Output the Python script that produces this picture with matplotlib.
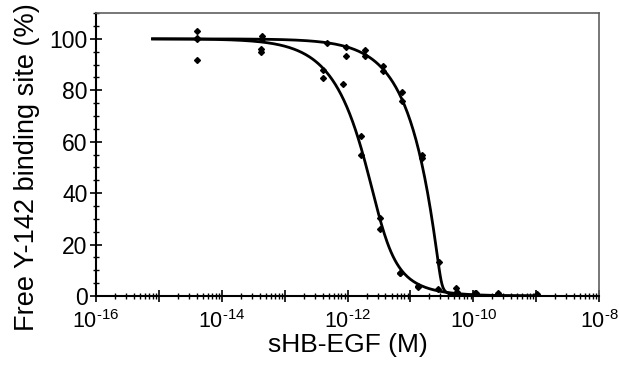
import numpy as np
import matplotlib
matplotlib.use("Agg")
import matplotlib.pyplot as plt
from matplotlib.ticker import LogLocator, MultipleLocator, FuncFormatter, NullFormatter

plt.rcParams['font.family'] = ['Liberation Sans', 'DejaVu Sans']
plt.rcParams['mathtext.fontset'] = 'custom'
plt.rcParams['mathtext.rm'] = 'Liberation Sans'

# data (log10 of concentration, % free site)
left_logc = [-14.40, -14.40, -13.38, -13.38, -12.39, -12.39, -12.08, -11.79, -11.79,
             -11.49, -11.49, -11.17, -11.17, -10.88, -10.88, -10.57, -10.27, -9.97]
left_free = [103.1, 91.9, 96.0, 94.7, 87.9, 84.8, 82.4, 62.4, 54.7,
             30.5, 25.9, 8.8, 9.0, 3.9, 3.6, 2.6, 1.2, 0.6]

right_logc = [-14.40, -14.40, -13.36, -13.36, -12.33, -12.03, -12.03, -11.72, -11.72,
              -11.43, -11.43, -11.14, -11.14, -10.82, -10.82, -10.54, -10.27, -10.26,
              -9.97, -9.96, -9.61, -8.99]
right_free = [100.3, 99.8, 101.2, 99.9, 98.2, 96.9, 93.3, 95.6, 93.5,
              89.5, 87.6, 79.2, 76.0, 54.7, 53.8, 13.3, 3.0, 1.7,
              1.0, 1.0, 1.3, 0.7]

# fit parameters (tight-binding model): receptor conc and Kd, in M
left_fit = (3.0e-12, 5.0e-13)
right_fit = (3.1e-11, 1.0e-13)
curve_range = (-15.1, -9.0)


def free_site(conc, rec, kd):
    s = conc + rec + kd
    bound = (s - np.sqrt(s ** 2 - 4 * conc * rec)) / (2 * rec)
    return 100 * (1 - bound)


def log_label(val, pos):
    exp = int(round(np.log10(val)))
    if exp % 2:
        return ''
    # plain hyphen in the exponent, like the original
    return r'$\mathregular{10^{\text{-}%d}}$' % abs(exp)


fig = plt.figure(figsize=(6.19, 3.65), dpi=100)
ax = fig.add_axes([0.155, 0.189, 0.813, 0.775])

xc = np.logspace(curve_range[0], curve_range[1], 400)
for rec, kd in (left_fit, right_fit):
    ax.plot(xc, free_site(xc, rec, kd), color='black', lw=2)

ax.plot(10 ** np.array(left_logc), left_free, 'D', color='black', ms=3, ls='none')
ax.plot(10 ** np.array(right_logc), right_free, 'D', color='black', ms=3, ls='none')

ax.set_xscale('log')
ax.set_xlim(1e-16, 1e-8)
ax.set_ylim(0, 110)

ax.xaxis.set_major_locator(LogLocator(base=10, numticks=20))
ax.xaxis.set_minor_locator(LogLocator(base=10, subs=np.arange(2, 10), numticks=20))
ax.xaxis.set_major_formatter(FuncFormatter(log_label))
ax.xaxis.set_minor_formatter(NullFormatter())
ax.yaxis.set_major_locator(MultipleLocator(20))
ax.yaxis.set_minor_locator(MultipleLocator(5))

ax.tick_params(which='major', direction='inout', length=8, width=1.2, labelsize=16.5, pad=2)
ax.tick_params(which='minor', direction='inout', length=5, width=1.0)
ax.tick_params(axis='x', which='major', labelsize=15.5, pad=6)

for side in ('left', 'bottom'):
    ax.spines[side].set_linewidth(1.5)
for side in ('top', 'right'):
    ax.spines[side].set_color('#606060')
    ax.spines[side].set_linewidth(1.2)

ax.set_xlabel('sHB-EGF (M)', fontsize=19, labelpad=0)
ax.set_ylabel('Free Y-142 binding site (%)', fontsize=19.5)
ax.yaxis.set_label_coords(-0.112, 0.455)

fig.savefig('out.png', dpi=100)
